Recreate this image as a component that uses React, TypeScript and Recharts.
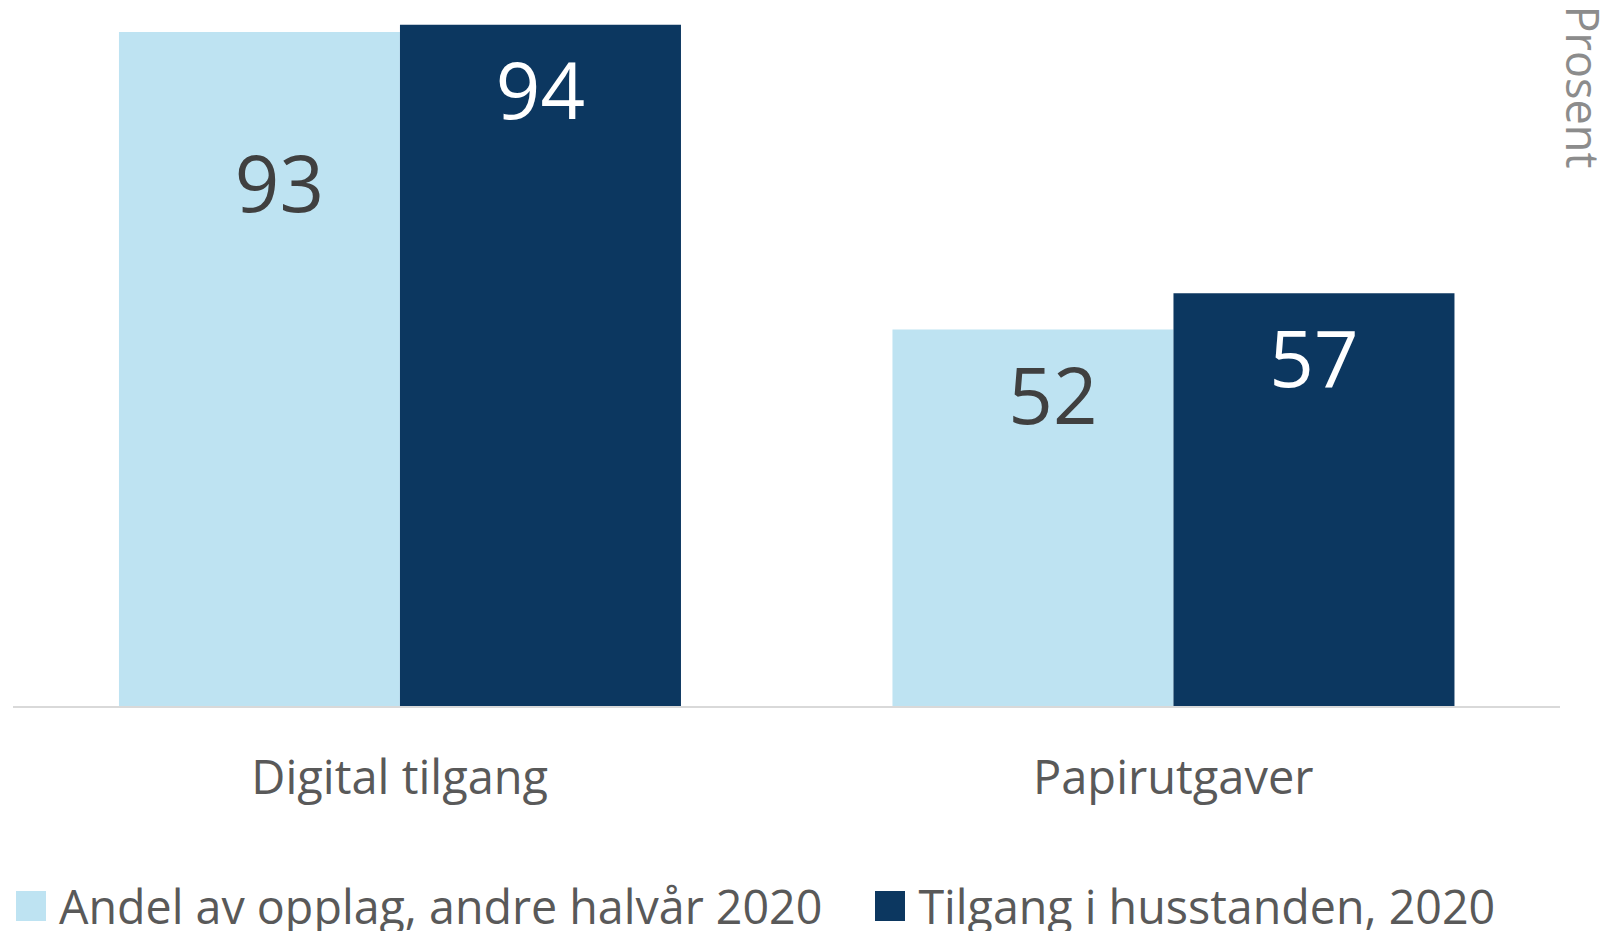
import { BarChart, Bar, XAxis, YAxis, Legend, LabelList } from 'recharts';

const FONT = '"Open Sans", sans-serif';

const COLORS = {
  light: '#BEE3F2',
  dark: '#0C3760',
  axis: '#D9D9D9',
  text: '#595959',
  value: '#404040',
  unit: '#8C8C8C',
};

const categories = ['Digital tilgang', 'Papirutgaver'];
const andelOpplag = [93, 52];
const tilgangHusstand = [94, 57];
const seriesNames = ['Andel av opplag, andre halvår 2020', 'Tilgang i husstanden, 2020'];
const unitLabel = 'Prosent';

const data = categories.map((name, i) => ({
  name,
  andel: andelOpplag[i],
  tilgang: tilgangHusstand[i],
}));

// value label placed inside the top of the bar
const valueLabel = (color: string, dx: number, firstDrop: number) => (props: any) => {
  const { x, y, width, value, index } = props;
  const drop = index === 0 ? firstDrop : 0;
  return (
    <text
      x={Number(x) + Number(width) / 2 + dx}
      y={Number(y) + 94 + drop}
      textAnchor="middle"
      fill={color}
      fontSize={78}
      fontFamily={FONT}
    >
      {value}
    </text>
  );
};

const CategoryTick = (props: any) => {
  const { x, y, payload } = props;
  return (
    <text x={x} y={y + 87} textAnchor="middle" fill={COLORS.text} fontSize={47} fontFamily={FONT}>
      {payload.value}
    </text>
  );
};

const UnitLabel = (props: any) => {
  const { viewBox } = props;
  const cx = viewBox.x + 23;
  const cy = 87;
  return (
    <text
      x={cx}
      y={cy}
      transform={`rotate(90 ${cx} ${cy})`}
      textAnchor="middle"
      dominantBaseline="central"
      fill={COLORS.unit}
      fontSize={45}
      fontFamily={FONT}
    >
      {unitLabel}
    </text>
  );
};

const LegendContent = (props: any) => {
  const { payload = [] } = props;
  return (
    <div style={{ display: 'flex', alignItems: 'center', fontFamily: FONT }}>
      {payload.map((entry: any, i: number) => (
        <div
          key={entry.value}
          style={{ display: 'flex', alignItems: 'center', marginLeft: i === 0 ? 16 : 53 }}
        >
          <span style={{ width: 30, height: 30, background: entry.color, marginRight: 13 }} />
          <span style={{ fontSize: 46.6, lineHeight: 1, color: COLORS.text, whiteSpace: 'nowrap' }}>
            {entry.value}
          </span>
        </div>
      ))}
    </div>
  );
};

export default function App() {
  return (
    <div style={{ position: 'absolute', left: 0, top: 0, background: '#fff' }}>
      <BarChart
        width={1604}
        height={931}
        data={data}
        margin={{ top: 3, right: 0, bottom: 0, left: 13 }}
        barCategoryGap="13.7%"
        barGap={0}
        style={{ fontFamily: FONT }}
      >
        <XAxis
          dataKey="name"
          height={224}
          tickLine={false}
          tickSize={0}
          tickMargin={0}
          axisLine={{ stroke: COLORS.axis, strokeWidth: 2 }}
          tick={<CategoryTick />}
          interval={0}
        />
        <YAxis
          orientation="right"
          width={44}
          domain={[0, 97]}
          axisLine={false}
          tickLine={false}
          tick={false}
          label={<UnitLabel />}
        />
        <Legend
          content={<LegendContent />}
          wrapperStyle={{ position: 'absolute', left: 0, top: 883, height: 0, width: 1604 }}
        />
        <Bar dataKey="andel" name={seriesNames[0]} fill={COLORS.light} isAnimationActive={false}>
          <LabelList dataKey="andel" content={valueLabel(COLORS.value, 20, 86)} />
        </Bar>
        <Bar dataKey="tilgang" name={seriesNames[1]} fill={COLORS.dark} isAnimationActive={false}>
          <LabelList dataKey="tilgang" content={valueLabel('#FFFFFF', 0, 0)} />
        </Bar>
      </BarChart>
    </div>
  );
}
